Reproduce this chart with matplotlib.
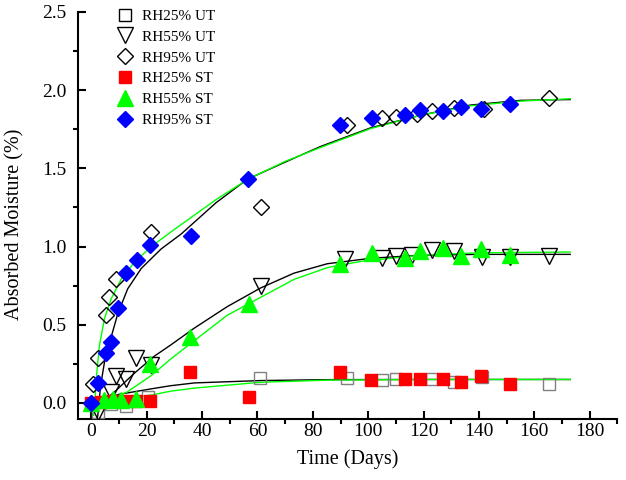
"""
Moisture absorption vs time for untreated (UT) and surface treated (ST)
samples at three relative humidities, with the fitted uptake curves.
"""

import matplotlib
matplotlib.use("Agg")
import matplotlib.pyplot as plt
from matplotlib.ticker import MultipleLocator, FormatStrFormatter

plt.rcParams["font.family"] = ["Liberation Serif", "DejaVu Serif"]

# --- measured points (days, %)
ut25_t = [2.3, 7.0, 12.5, 20.5, 61.0, 92.2, 105.1, 110.0, 123.2, 131.0, 141.3, 165.2]
ut25 = [-0.06, -0.01, -0.02, 0.04, 0.16, 0.16, 0.145, 0.15, 0.15, 0.135, 0.165, 0.12]

ut55_t = [2.3, 7.1, 8.9, 12.5, 16.1, 21.6, 61.1, 91.8, 105.1, 109.9, 116.0, 123.2,
          131.0, 141.3, 151.2, 165.2]
ut55 = [-0.06, 0.07, 0.175, 0.155, 0.29, 0.24, 0.745, 0.92, 0.925, 0.94, 0.945, 0.975,
        0.97, 0.93, 0.93, 0.94]

ut95_t = [0.5, 2.3, 5.3, 6.5, 8.9, 21.6, 61.3, 92.5, 105.1, 110.0, 117.8, 123.2,
          131.0, 141.9, 165.2]
ut95 = [0.12, 0.29, 0.56, 0.675, 0.79, 1.095, 1.255, 1.775, 1.82, 1.83, 1.85, 1.87,
        1.885, 1.88, 1.95]

st25_t = [0.0, 3.5, 7.1, 11.3, 16.1, 21.0, 35.6, 56.9, 89.7, 101.1, 113.2, 118.6,
          126.9, 133.4, 140.7, 151.2]
st25 = [0.0, 0.005, 0.01, 0.01, 0.01, 0.01, 0.2, 0.04, 0.2, 0.145, 0.15, 0.15,
        0.15, 0.135, 0.17, 0.12]

st55_t = [0.0, 4.7, 7.7, 10.7, 16.1, 21.0, 35.6, 56.9, 89.8, 101.5, 113.2, 118.6,
          127.2, 133.6, 140.7, 151.2]
st55 = [0.0, 0.02, 0.025, 0.02, 0.025, 0.25, 0.42, 0.63, 0.89, 0.96, 0.925, 0.97,
        0.99, 0.94, 0.985, 0.945]

st95_t = [0.0, 2.3, 5.3, 7.1, 9.5, 12.5, 16.4, 21.0, 35.8, 56.5, 89.7, 101.5, 113.2,
          118.6, 127.2, 133.6, 140.7, 151.2]
st95 = [0.0, 0.13, 0.32, 0.39, 0.61, 0.83, 0.915, 1.01, 1.065, 1.43, 1.775, 1.82, 1.84,
        1.875, 1.87, 1.89, 1.88, 1.91]

# --- fitted curves
fit25_ut_t = [0.0, 5.0, 10.0, 21.6, 28.6, 37.3, 61.1, 86.0, 120.0, 173.0]
fit25_ut = [0.0, 0.03, 0.055, 0.09, 0.11, 0.128, 0.143, 0.149, 0.15, 0.15]

fit25_st_t = [0.0, 10.0, 21.6, 28.6, 37.3, 61.1, 86.0, 120.0, 173.0]
fit25_st = [-0.01, 0.025, 0.05, 0.075, 0.095, 0.132, 0.146, 0.15, 0.15]

fit55_ut_t = [2.5, 5.0, 8.3, 15.5, 22.8, 28.6, 37.3, 49.0, 61.1, 73.2, 85.2, 100.9,
              119.0, 140.0, 173.0]
fit55_ut = [-0.03, 0.02, 0.07, 0.19, 0.30, 0.37, 0.48, 0.615, 0.735, 0.83, 0.89, 0.925,
            0.945, 0.95, 0.95]

fit55_st_t = [0.8, 4.7, 9.5, 12.9, 21.6, 28.6, 37.3, 49.0, 56.9, 73.2, 85.2, 97.3,
              119.0, 140.0, 173.0]
fit55_st = [-0.02, 0.005, 0.045, 0.07, 0.175, 0.28, 0.40, 0.56, 0.635, 0.79, 0.865, 0.905,
            0.945, 0.96, 0.965]

fit95_ut_t = [2.0, 2.3, 3.3, 4.7, 7.1, 9.5, 13.1, 18.0, 25.2, 32.4, 45.0, 56.3, 70.0,
              82.8, 101.0, 119.0, 137.0, 155.0, 173.0]
fit95_ut = [-0.1, -0.08, 0.11, 0.26, 0.42, 0.57, 0.73, 0.86, 0.985, 1.08, 1.28, 1.43,
            1.54, 1.64, 1.76, 1.84, 1.905, 1.935, 1.94]

fit95_st_t = [0.8, 1.1, 1.7, 2.9, 4.7, 7.1, 10.7, 15.5, 21.6, 30.0, 45.0, 56.5, 70.0,
              83.0, 101.0, 119.0, 137.0, 155.0, 173.0]
fit95_st = [-0.08, -0.04, 0.15, 0.37, 0.54, 0.665, 0.79, 0.9, 1.0, 1.11, 1.30, 1.43,
            1.545, 1.635, 1.755, 1.84, 1.9, 1.93, 1.945]

fig = plt.figure(figsize=(6.26, 4.8), dpi=100)
ax = fig.add_axes([0.124, 0.128, 0.862, 0.847])

# curves first, markers on top
for t, m in [(fit25_ut_t, fit25_ut), (fit55_ut_t, fit55_ut), (fit95_ut_t, fit95_ut)]:
    ax.plot(t, m, color="black", lw=1.0, zorder=2)
for t, m in [(fit25_st_t, fit25_st), (fit55_st_t, fit55_st), (fit95_st_t, fit95_st)]:
    ax.plot(t, m, color="#00ff00", lw=1.0, zorder=2)

ax.plot(ut25_t, ut25, ls="none", marker="s", ms=8, mfc="none", mec="#808080",
        mew=1.0, label="RH25% UT", zorder=3)
ax.plot(ut55_t, ut55, ls="none", marker="v", ms=11, mfc="none", mec="black",
        mew=1.0, label="RH55% UT", zorder=3)
ax.plot(ut95_t, ut95, ls="none", marker="D", ms=8.5, mfc="none", mec="black",
        mew=1.0, label="RH95% UT", zorder=3)
ax.plot(st25_t, st25, ls="none", marker="s", ms=8.5, color="#ff0000",
        mec="#ff0000", label="RH25% ST", zorder=4)
ax.plot(st55_t, st55, ls="none", marker="^", ms=11, color="#00ff00",
        mec="#00ff00", label="RH55% ST", zorder=4)
ax.plot(st95_t, st95, ls="none", marker="D", ms=8.5, color="#0000ff",
        mec="#0000ff", label="RH95% ST", zorder=4)

ax.set_xlim(-5, 190)
ax.set_ylim(-0.1, 2.5)
ax.xaxis.set_major_locator(MultipleLocator(20))
ax.xaxis.set_minor_locator(MultipleLocator(10))
ax.yaxis.set_major_locator(MultipleLocator(0.5))
ax.yaxis.set_minor_locator(MultipleLocator(0.25))
ax.yaxis.set_major_formatter(FormatStrFormatter("%.1f"))

for side in ["top", "right"]:
    ax.spines[side].set_visible(False)
for side in ["left", "bottom"]:
    ax.spines[side].set_linewidth(1.5)
# major ticks point into the plot, minor ones out
ax.tick_params(which="major", direction="in", length=6, width=1.5, labelsize=14)
ax.tick_params(axis="y", which="major", pad=8)
ax.tick_params(axis="x", which="major", pad=3)
ax.tick_params(which="minor", direction="out", length=3.5, width=1.5)

ax.set_xlabel("Time (Days)", fontsize=14.5)
ax.set_ylabel("Absorbed Moisture (%)", fontsize=14.5)
ax.xaxis.set_label_coords(0.501, -0.075)
ax.yaxis.set_label_coords(-0.099, 0.477)

leg = ax.legend(loc="upper left", bbox_to_anchor=(0.06, 1.022), frameon=False,
                fontsize=11, handlelength=1.2, handletextpad=0.5,
                labelspacing=0.47, borderaxespad=0.0)
leg.legend_handles[0].set_markeredgecolor("black")

fig.savefig("out.png", dpi=100)
